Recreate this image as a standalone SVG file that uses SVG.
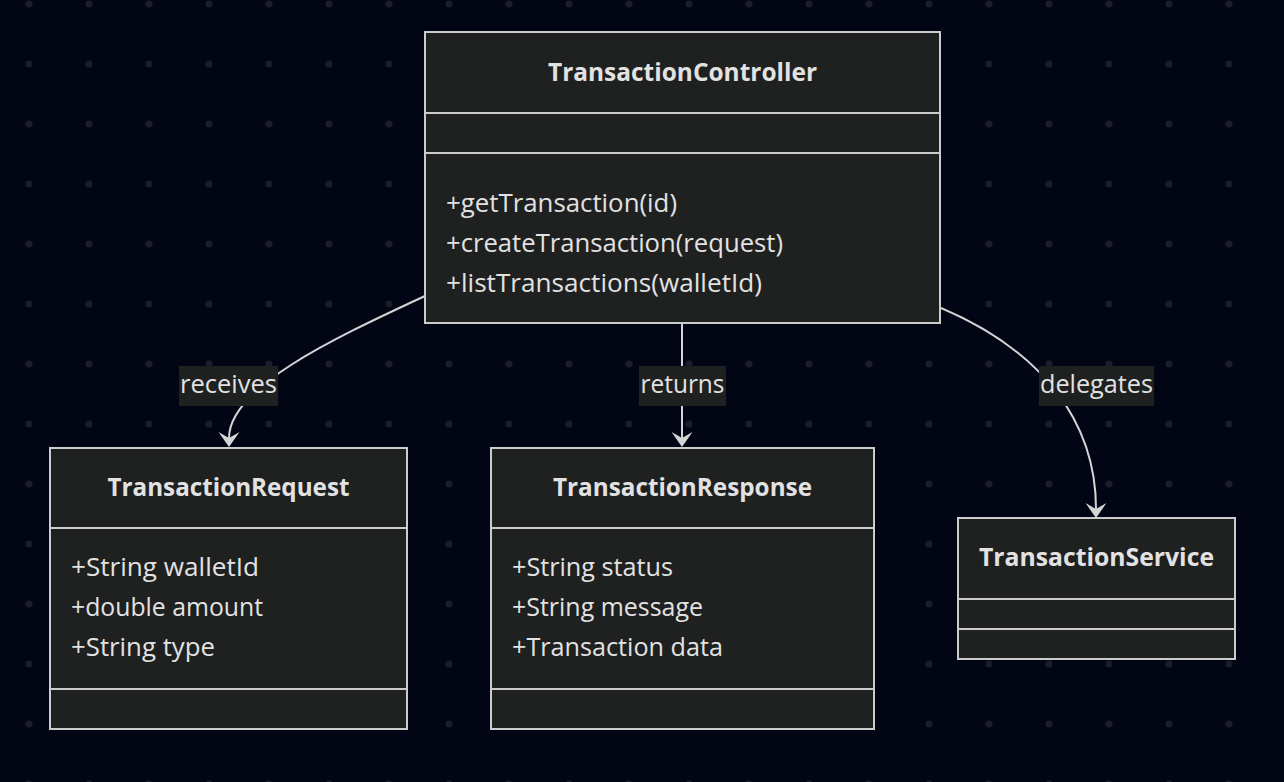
<svg xmlns="http://www.w3.org/2000/svg" width="1284" height="782" viewBox="0 0 1284 782">
  <defs>
    <pattern id="dots" x="0" y="0" width="60" height="60" patternUnits="userSpaceOnUse">
      <circle cx="29" cy="4" r="3.5" fill="#1b1e2a"/>
    </pattern>
    <marker id="arr" markerUnits="userSpaceOnUse" markerWidth="20" markerHeight="24" viewBox="0 -12 18 24" refX="6" refY="0" orient="auto">
      <path d="M0,-10.5 L15,0 L0,10.5 L6,0 Z" fill="#d4d4d4"/>
    </marker>
  </defs>
  <style>
    .box { fill: #1f2020; stroke: #cccccc; stroke-width: 2; }
    .div { stroke: #cccccc; stroke-width: 2; fill: none; }
    .t { font-family: "Open Sans", "Noto Sans", sans-serif; font-size: 25px; fill: #e2e2e2; }
    .title { font-weight: bold; text-anchor: middle; }
    .edge { fill: none; stroke: #d4d4d4; stroke-width: 2; }
    .lbg { fill: #1f2020; }
    .lbl { text-anchor: middle; }
  </style>
  <rect x="0" y="0" width="1284" height="782" fill="#020614"/>
  <rect x="0" y="0" width="1284" height="782" fill="url(#dots)"/>

  <g id="connectors">
    <path class="edge" d="M425,296 C330,340 229,388 229,438" marker-end="url(#arr)"/>
    <path class="edge" d="M682,323 L682,438" marker-end="url(#arr)"/>
    <path class="edge" d="M941,308 C1040,350 1096,420 1096,509" marker-end="url(#arr)"/>
    <g id="label-receives">
      <rect class="lbg" x="179" y="366" width="99" height="40"/>
      <text class="t lbl" x="228.5" y="393" textLength="97" lengthAdjust="spacingAndGlyphs">receives</text>
    </g>
    <g id="label-returns">
      <rect class="lbg" x="639" y="366" width="87" height="40"/>
      <text class="t lbl" x="682.5" y="393" textLength="84" lengthAdjust="spacingAndGlyphs">returns</text>
    </g>
    <g id="label-delegates">
      <rect class="lbg" x="1039" y="366" width="115" height="40"/>
      <text class="t lbl" x="1096.5" y="393" textLength="113" lengthAdjust="spacingAndGlyphs">delegates</text>
    </g>
  </g>

  <g id="TransactionController">
    <rect class="box" x="425" y="32" width="515" height="291"/>
    <line class="div" x1="425" y1="113" x2="940" y2="113"/>
    <line class="div" x1="425" y1="153" x2="940" y2="153"/>
    <text class="t title" x="682.5" y="81" textLength="269" lengthAdjust="spacingAndGlyphs">TransactionController</text>
    <text class="t" x="446" y="212" textLength="231" lengthAdjust="spacingAndGlyphs">+getTransaction(id)</text>
    <text class="t" x="446" y="252" textLength="337" lengthAdjust="spacingAndGlyphs">+createTransaction(request)</text>
    <text class="t" x="446" y="292" textLength="316" lengthAdjust="spacingAndGlyphs">+listTransactions(walletId)</text>
  </g>

  <g id="TransactionRequest">
    <rect class="box" x="50" y="448" width="357" height="281"/>
    <line class="div" x1="50" y1="528" x2="407" y2="528"/>
    <line class="div" x1="50" y1="689" x2="407" y2="689"/>
    <text class="t title" x="228.5" y="496" textLength="242" lengthAdjust="spacingAndGlyphs">TransactionRequest</text>
    <text class="t" x="71" y="576" textLength="188" lengthAdjust="spacingAndGlyphs">+String walletId</text>
    <text class="t" x="71" y="616" textLength="192" lengthAdjust="spacingAndGlyphs">+double amount</text>
    <text class="t" x="71" y="656" textLength="144" lengthAdjust="spacingAndGlyphs">+String type</text>
  </g>

  <g id="TransactionResponse">
    <rect class="box" x="491" y="448" width="383" height="281"/>
    <line class="div" x1="491" y1="528" x2="874" y2="528"/>
    <line class="div" x1="491" y1="689" x2="874" y2="689"/>
    <text class="t title" x="682.5" y="496" textLength="259" lengthAdjust="spacingAndGlyphs">TransactionResponse</text>
    <text class="t" x="512" y="576" textLength="161" lengthAdjust="spacingAndGlyphs">+String status</text>
    <text class="t" x="512" y="616" textLength="191" lengthAdjust="spacingAndGlyphs">+String message</text>
    <text class="t" x="512" y="656" textLength="211" lengthAdjust="spacingAndGlyphs">+Transaction data</text>
  </g>

  <g id="TransactionService">
    <rect class="box" x="958" y="518" width="277" height="141"/>
    <line class="div" x1="958" y1="599" x2="1235" y2="599"/>
    <line class="div" x1="958" y1="629" x2="1235" y2="629"/>
    <text class="t title" x="1096.5" y="566" textLength="235" lengthAdjust="spacingAndGlyphs">TransactionService</text>
  </g>
</svg>
